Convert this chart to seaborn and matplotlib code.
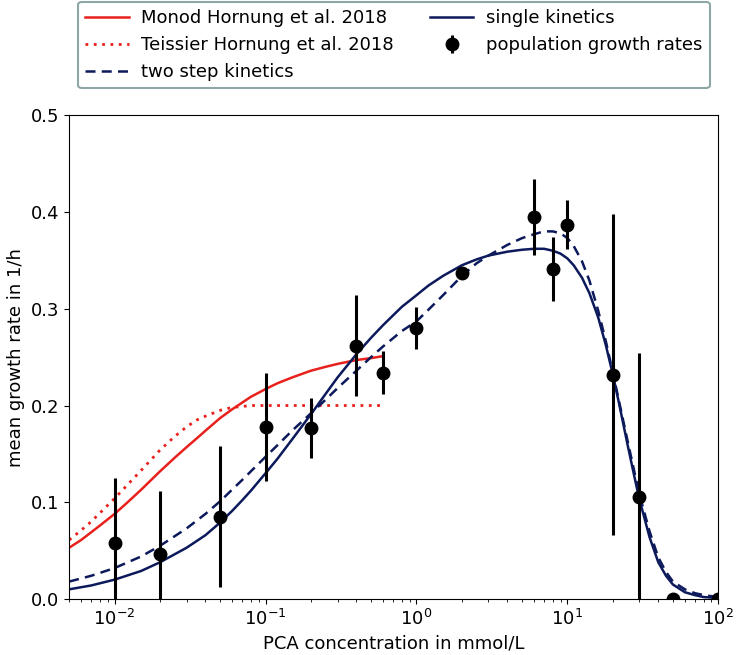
import numpy as np
import pandas as pd
import matplotlib
matplotlib.use("Agg")
import matplotlib.pyplot as plt
from matplotlib.ticker import LogLocator, NullFormatter
import seaborn as sns

# measured population growth rates
conc = [0.01, 0.02, 0.05, 0.1, 0.2, 0.4, 0.6, 1.0, 2.0, 6.0, 8.0, 10.0, 20.0, 30.0, 50.0, 100.0]
rate = [0.058, 0.047, 0.085, 0.178, 0.177, 0.262, 0.234, 0.280, 0.337, 0.395, 0.341, 0.387, 0.232, 0.105, 0.0, 0.0]
rate_err = [0.067, 0.065, 0.073, 0.056, 0.031, 0.052, 0.022, 0.022, 0.004, 0.039, 0.033, 0.025, 0.166, 0.149, 0.0, 0.0]

# literature fits (Hornung et al. 2018)
lit_conc = [0.005, 0.006, 0.007, 0.008, 0.01, 0.012, 0.015, 0.02, 0.025, 0.03, 0.035, 0.04, 0.05,
            0.06, 0.07, 0.08, 0.1, 0.12, 0.15, 0.2, 0.25, 0.3, 0.4, 0.5, 0.6]
monod = [0.053, 0.061, 0.069, 0.076, 0.088, 0.099, 0.113, 0.132, 0.146, 0.157, 0.166, 0.174, 0.187,
         0.196, 0.203, 0.209, 0.217, 0.223, 0.229, 0.236, 0.240, 0.243, 0.247, 0.249, 0.251]
teissier = [0.061, 0.071, 0.080, 0.089, 0.104, 0.117, 0.133, 0.154, 0.168, 0.178, 0.185, 0.189, 0.195,
            0.198, 0.199, 0.200, 0.200, 0.200, 0.200, 0.200, 0.200, 0.200, 0.200, 0.200, 0.200]

# model curves
fit_conc = [0.005, 0.007, 0.01, 0.015, 0.02, 0.03, 0.04, 0.05, 0.06, 0.07, 0.08, 0.1, 0.12, 0.15,
            0.2, 0.25, 0.3, 0.4, 0.5, 0.6, 0.8, 1.0, 1.2, 1.5, 2.0, 2.5, 3.0, 4.0, 5.0, 6.0, 7.0,
            8.0, 9.0, 10.0, 11.0, 12.5, 14.0, 16.0, 18.0, 20.0, 22.0, 25.0, 28.0, 30.0, 35.0,
            40.0, 45.0, 50.0, 60.0, 70.0, 80.0, 100.0]
single = [0.010, 0.014, 0.020, 0.029, 0.038, 0.053, 0.066, 0.079, 0.091, 0.102, 0.112, 0.130, 0.145, 0.165,
          0.191, 0.212, 0.229, 0.253, 0.270, 0.283, 0.302, 0.314, 0.324, 0.334, 0.345, 0.351, 0.355, 0.359,
          0.361, 0.362, 0.362, 0.360, 0.357, 0.352, 0.345, 0.332, 0.316, 0.291, 0.262, 0.232, 0.202,
          0.160, 0.124, 0.103, 0.064, 0.038, 0.024, 0.015, 0.007, 0.004, 0.002, 0.001]
two_step = [0.018, 0.024, 0.032, 0.044, 0.055, 0.073, 0.088, 0.101, 0.113, 0.123, 0.132, 0.147, 0.159, 0.174,
            0.192, 0.206, 0.218, 0.236, 0.250, 0.261, 0.277, 0.287, 0.299, 0.314, 0.334, 0.347, 0.355, 0.366,
            0.373, 0.377, 0.380, 0.380, 0.378, 0.373, 0.365, 0.349, 0.329, 0.298, 0.266, 0.234, 0.204,
            0.164, 0.129, 0.108, 0.070, 0.043, 0.028, 0.018, 0.010, 0.006, 0.004, 0.002]

red = "#e8211d"
navy = "#0c1a5c"

plt.rcParams["font.family"] = ["DejaVu Sans"]
plt.rcParams["font.size"] = 13

fig = plt.figure(figsize=(7.36, 6.55), dpi=100)
ax = fig.add_axes([0.094, 0.0855, 0.882, 0.7385])
ax.set_xscale("log")

sns.lineplot(x=lit_conc, y=monod, ax=ax, color=red, lw=1.8, label="Monod Hornung et al. 2018")
sns.lineplot(x=lit_conc, y=teissier, ax=ax, color=red, lw=2.0, linestyle=(0, (1, 2)),
             label="Teissier Hornung et al. 2018")
sns.lineplot(x=fit_conc, y=two_step, ax=ax, color=navy, lw=1.8, linestyle=(0, (4, 2.5)),
             label="two step kinetics")
sns.lineplot(x=fit_conc, y=single, ax=ax, color=navy, lw=1.8, label="single kinetics")
eb = ax.errorbar(conc, rate, yerr=rate_err, fmt="o", color="black", ms=9, elinewidth=2.2,
                 capsize=0, label="population growth rates", zorder=5)
eb.lines[0].set_clip_on(True)
for coll in eb.lines[2]:
    coll.set_clip_on(True)

ax.set_xlim(0.005, 100)
ax.set_ylim(0, 0.5)
ax.set_yticks([0.0, 0.1, 0.2, 0.3, 0.4, 0.5])
ax.xaxis.set_minor_locator(LogLocator(base=10, subs=np.arange(2, 10), numticks=20))
ax.xaxis.set_minor_formatter(NullFormatter())
ax.tick_params(labelsize=13)
ax.set_xlabel("PCA concentration in mmol/L", fontsize=13)
ax.set_ylabel("mean growth rate in 1/h", fontsize=13)

leg = ax.legend(loc="lower center", bbox_to_anchor=(0.5, 1.056), ncol=2, fontsize=13,
                frameon=True, fancybox=True, borderaxespad=0.0, handlelength=2.4,
                handletextpad=0.7, columnspacing=2.0, borderpad=0.4)
leg.get_frame().set_edgecolor("#8fa6a6")
leg.get_frame().set_linewidth(1.5)
leg.get_frame().set_alpha(1.0)

fig.savefig("out.png", dpi=100)
